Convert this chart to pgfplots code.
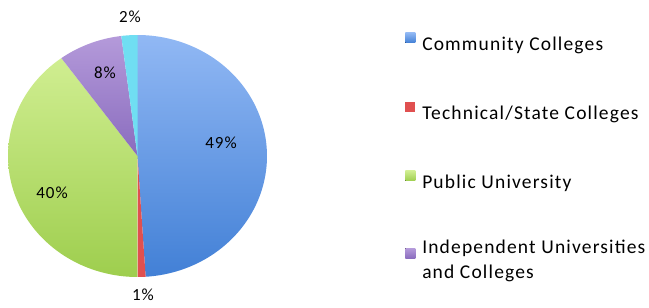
\documentclass[border=0pt]{standalone}
\usepackage{pgfplots}
\pgfplotsset{compat=1.18}
\usepackage{pgfplotstable}
\usepackage{fontspec}
\setmainfont{Carlito}[LetterSpace=6]

\definecolor{blueT}{RGB}{145,184,244}
\definecolor{blueB}{RGB}{66,128,214}
\definecolor{redS}{RGB}{224,80,80}
\definecolor{greenT}{RGB}{208,238,145}
\definecolor{greenB}{RGB}{158,206,78}
\definecolor{purpT}{RGB}{180,154,218}
\definecolor{purpB}{RGB}{138,108,190}
\definecolor{cyanS}{RGB}{112,222,242}

% shares in percent, clockwise from 12 o'clock
\pgfplotstableread{
group share
Community 49
Technical 1
Public 40
Independent 8
Other 2
}\pietable

\pgfplotstablegetelem{0}{share}\of\pietable \let\vA\pgfplotsretval
\pgfplotstablegetelem{1}{share}\of\pietable \let\vB\pgfplotsretval
\pgfplotstablegetelem{2}{share}\of\pietable \let\vC\pgfplotsretval
\pgfplotstablegetelem{3}{share}\of\pietable \let\vD\pgfplotsretval
\pgfplotstablegetelem{4}{share}\of\pietable \let\vE\pgfplotsretval
\pgfmathsetmacro{\aA}{90}
\pgfmathsetmacro{\aB}{\aA-3.6*\vA}
\pgfmathsetmacro{\aC}{\aB-3.6*\vB}
\pgfmathsetmacro{\aD}{\aC-3.6*\vC}
\pgfmathsetmacro{\aE}{\aD-3.6*\vD}
\pgfmathsetmacro{\aF}{\aE-3.6*\vE}

\begin{document}
\begin{tikzpicture}
\useasboundingbox (0,0) rectangle (649pt,308pt);
\begin{axis}[
  at={(137.5pt,152pt)}, anchor=center,
  scale only axis, width=259pt, height=242pt,
  xmin=-1, xmax=1, ymin=-1, ymax=1,
  axis lines=none, clip=false,
  legend style={at={(axis description cs:1.533,1.01)}, anchor=north west,
    draw=none, fill=none, font=\fontsize{19.5}{25}\selectfont,
    row sep=50pt, inner sep=0pt,
    nodes={inner xsep=3pt, inner ysep=0pt}},
  legend cell align=left,
  legend image code/.code={\fill[#1] (0pt,1.5pt) rectangle (10pt,11.5pt); \path (14pt,0pt);},
]
\addplot[draw=none, top color=blueT, bottom color=blueB, domain=\aB:\aA, samples=90]
  ({cos(x)},{sin(x)}) -- (0,0) -- cycle;
\addlegendentry{Community Colleges}
\addplot[draw=none, fill=redS, domain=\aC:\aB, samples=5]
  ({cos(x)},{sin(x)}) -- (0,0) -- cycle;
\addlegendentry{Technical/State Colleges}
\addplot[draw=none, top color=greenT, bottom color=greenB, domain=\aD:\aC, samples=90]
  ({cos(x)},{sin(x)}) -- (0,0) -- cycle;
\addlegendentry{Public University}
\addplot[draw=none, top color=purpT, bottom color=purpB, domain=\aE:\aD, samples=20]
  ({cos(x)},{sin(x)}) -- (0,0) -- cycle;
\addlegendentry[align=left]{Independent Universities\\and Colleges}
\addplot[draw=none, fill=cyanS, domain=\aF:\aE, samples=8, forget plot]
  ({cos(x)},{sin(x)}) -- (0,0) -- cycle;

\begin{scope}[font=\fontsize{17}{20}\selectfont]
\node at (axis cs:0.645,0.107) {49\%};
\node at (axis cs:-0.66,-0.306) {40\%};
\node at (axis cs:-0.251,0.686) {8\%};
\node at (axis cs:-0.058,1.149) {2\%};
\node at (axis cs:0.042,-1.149) {1\%};
\end{scope}
\end{axis}
\end{tikzpicture}
\end{document}
